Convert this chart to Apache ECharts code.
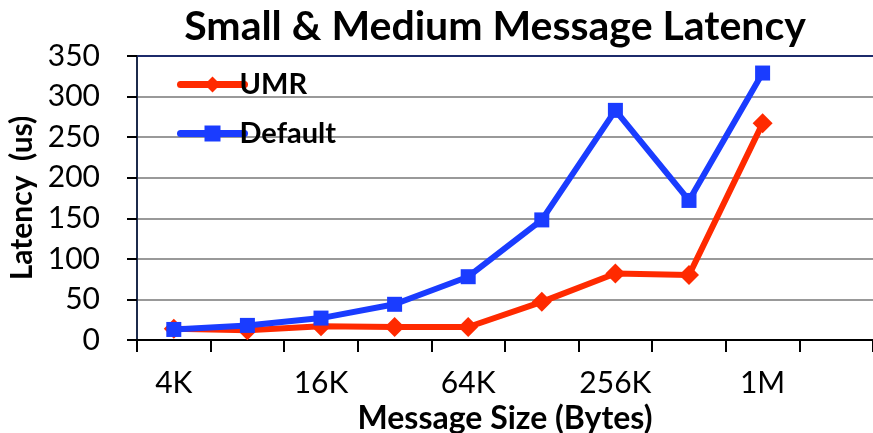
<!DOCTYPE html>
<html>
<head>
<meta charset="utf-8">
<script src="https://cdn.jsdelivr.net/npm/echarts@6/dist/echarts.min.js"></script>
<style>
  html, body { margin: 0; padding: 0; background: #fff; }
  #chart { width: 873px; height: 433px; }
</style>
</head>
<body>
<div id="chart"></div>
<script>
// message sizes, one slot past 1M is left empty like the original
const sizes = ['4K', '8K', '16K', '32K', '64K', '128K', '256K', '512K', '1M', '2M']
const umr = [14, 12, 17, 16, 16, 47, 82, 80, 267]
const defaultLat = [13, 18, 27, 44, 78, 148, 283, 172, 329]
const yTicks = [0, 50, 100, 150, 200, 250, 300, 350]

const font = 'Lato, "Open Sans", sans-serif'
const red = '#FF2A00'
const blue = '#1A3CFF'

const myChart = echarts.init(document.getElementById('chart'))
const option = {
  backgroundColor: '#fff',
  animation: false,
  title: {
    text: 'Small & Medium Message Latency',
    left: 490,
    textAlign: 'center',
    top: 1,
    textStyle: { fontFamily: font, fontSize: 41, fontWeight: 'bold', color: '#000' }
  },
  legend: {
    orient: 'vertical',
    left: 172,
    top: 65,
    itemGap: 20,
    itemWidth: 64,
    itemHeight: 20,
    textStyle: { fontFamily: font, fontSize: 29, fontWeight: 'bold', color: '#000', padding: [0, 0, 0, -10] },
    lineStyle: { width: 7, cap: 'round' },
    data: ['UMR', 'Default']
  },
  grid: { left: 137, right: 0, top: 56, bottom: 93, outerBoundsMode: 'none' },
  xAxis: {
    type: 'category',
    data: sizes,
    boundaryGap: true,
    name: 'Message Size (Bytes)',
    nameLocation: 'middle',
    nameGap: 58,
    nameTextStyle: { fontFamily: font, fontSize: 32, fontWeight: 'bold', color: '#000' },
    axisLine: { lineStyle: { color: '#000', width: 2 } },
    axisTick: { show: true, length: 12, lineStyle: { color: '#000', width: 2 }, interval: 0 },
    axisLabel: { interval: 1, margin: 28, fontFamily: font, fontSize: 30, color: '#000' }
  },
  yAxis: {
    type: 'value',
    min: yTicks[0],
    max: yTicks[yTicks.length - 1],
    interval: 50,
    name: 'Latency  (us)',
    nameLocation: 'middle',
    nameGap: 98,
    nameTextStyle: { fontFamily: font, fontSize: 30, fontWeight: 'bold', color: '#000' },
    axisLine: { show: true, lineStyle: { color: '#1c2a4b', width: 2 } },
    axisTick: { show: true, length: 10, lineStyle: { color: '#000', width: 2 } },
    axisLabel: { margin: 37, fontFamily: font, fontSize: 30, color: '#000' },
    splitLine: { lineStyle: { color: '#999', width: 2 } }
  },
  series: [
    {
      name: 'UMR',
      type: 'line',
      data: umr,
      symbol: 'diamond',
      symbolSize: 20,
      itemStyle: { color: red },
      lineStyle: { color: red, width: 6 },
      z: 2
    },
    {
      name: 'Default',
      type: 'line',
      data: defaultLat,
      symbol: 'rect',
      symbolSize: 15,
      itemStyle: { color: blue },
      lineStyle: { color: blue, width: 6 },
      z: 3
    }
  ]
}
myChart.setOption(option)

// dark border along the top of the plot area
myChart.setOption({
  graphic: [{
    type: 'line',
    shape: { x1: 137, y1: 56, x2: 873, y2: 56 },
    style: { stroke: '#1c2a6b', lineWidth: 2 },
    silent: true
  }]
})
</script>
</body>
</html>
